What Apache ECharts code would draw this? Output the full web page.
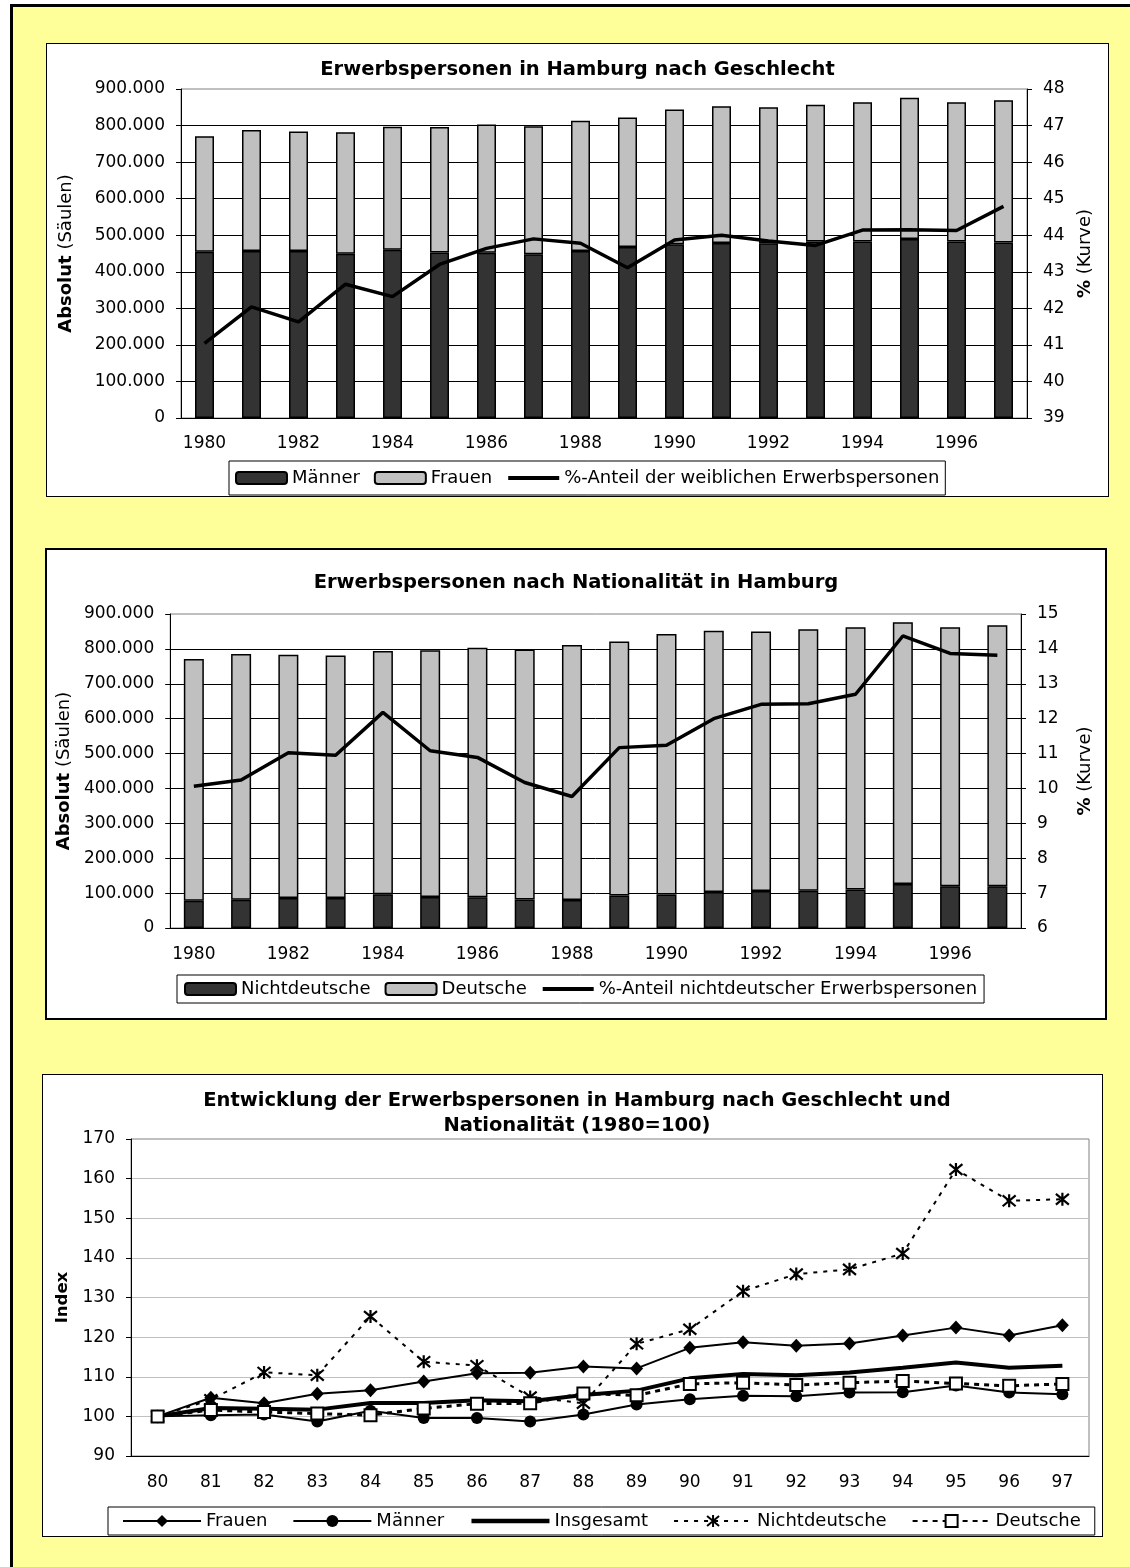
<!DOCTYPE html>
<html><head><meta charset="utf-8">
<script src="https://cdn.jsdelivr.net/npm/echarts@6/dist/echarts.min.js"></script>
<style>
html,body{margin:0;padding:0;background:#fff;width:1130px;height:1567px;overflow:hidden;}
#frame{position:absolute;left:10px;top:4px;width:1200px;height:1700px;border-left:3px solid #000;border-top:3px solid #000;background:#FFFF99;}
.box{position:absolute;background:#fff;border:1px solid #000;}
</style></head><body>
<div id="frame"></div>
<div id="c1" class="box" style="left:46px;top:43px;width:1061px;height:452px;"></div>
<div id="c2" class="box" style="left:45px;top:548px;width:1058px;height:468px;border-width:2px;"></div>
<div id="c3" class="box" style="left:42px;top:1074px;width:1059px;height:461px;"></div>
<script>
// ---------- data ----------
const years = ['1980','1981','1982','1983','1984','1985','1986','1987','1988','1989','1990','1991','1992','1993','1994','1995','1996','1997'];
const yearsShort = ['80','81','82','83','84','85','86','87','88','89','90','91','92','93','94','95','96','97'];
// Chart 1 (absolute numbers)
const maenner = [455000,457000,457000,449000,460000,453000,452000,448000,457000,468000,475000,479000,478000,483000,483000,490000,483000,480000];
const frauen  = [316000,331000,327000,333000,337000,343000,351000,350000,356000,354000,369000,374000,372000,374000,381000,386000,381000,389000];
const anteilWeiblich = [41.04,42.04,41.63,42.66,42.32,43.2,43.64,43.9,43.78,43.11,43.87,44.0,43.84,43.72,44.14,44.15,44.13,44.79];
// Chart 2
const nichtdeutsche = [78000,81000,86000,86000,97000,89000,88000,82000,80000,93000,96000,103000,106000,107000,110000,126000,120000,120000];
const deutsche      = [693000,704000,697000,695000,697000,707000,715000,716000,731000,728000,747000,749000,744000,749000,752000,750000,742000,748000];
const anteilNichtdeutsch = [10.06,10.24,11.02,10.95,12.18,11.08,10.89,10.17,9.77,11.17,11.24,12.0,12.41,12.43,12.7,14.37,13.87,13.82];
// Chart 3 (index 1980=100)
const idxFrauen   = [100,104.7,103.3,105.7,106.6,108.8,110.9,111.0,112.6,112.1,117.3,118.7,117.8,118.4,120.4,122.4,120.4,123.0];
const idxMaenner  = [100,100.3,100.5,98.7,101.4,99.6,99.6,98.7,100.5,103.0,104.3,105.2,105.1,106.0,106.1,107.8,106.0,105.6];
const idxGesamt   = [100,102.1,101.9,101.7,103.4,103.4,104.1,103.8,105.4,106.5,109.6,110.7,110.4,111.1,112.3,113.6,112.3,112.8];
const idxNichtdt  = [100,104.2,111.1,110.4,125.2,113.8,112.8,104.9,103.3,118.3,122.0,131.6,135.9,137.1,141.1,162.3,154.4,154.8];
const idxDeutsche = [100,101.6,101.1,100.7,100.3,102.0,103.2,103.3,105.8,105.3,108.2,108.5,107.9,108.5,108.9,108.3,107.7,108.2];

// ---------- styling helpers ----------
const F = 'DejaVu Sans';
const FS = 17;      // tick labels
const FT = 19.5;    // titles
const FL = 18;      // legend
const FN = 18;      // axis names
function fmt(v){ return String(v).replace(/\B(?=(\d{3})+(?!\d))/g,'.'); }
const blackLine = {lineStyle:{color:'#000',width:1}};
const lbl = {color:'#000',fontSize:FS,fontFamily:F};
const hidden = {color:'rgba(0,0,0,0)',borderColor:'rgba(0,0,0,0)',borderWidth:0,opacity:0};

function absChart(el, cfg){
  const c = echarts.init(document.getElementById(el), null, {renderer:'canvas'});
  c.setOption({
    animation:false,
    textStyle:{fontFamily:F},
    title:{text:cfg.title,left:'center',top:cfg.titleTop,
      textStyle:{fontSize:FT,fontWeight:'bold',color:'#000',fontFamily:F}},
    grid:Object.assign({show:true,borderColor:'#808080',borderWidth:1},cfg.grid),
    legend:{left:cfg.legendLeft,top:cfg.legendTop,itemWidth:51,itemHeight:12,itemGap:14,
      padding:cfg.legendPad,borderColor:'#000',borderWidth:1,backgroundColor:'#fff',
      textStyle:{fontSize:FL,color:'#000',fontFamily:F},
      data:[cfg.names[0],cfg.names[1],
        {name:cfg.names[2],itemStyle:hidden,lineStyle:{color:'#000',width:4,type:'solid'}}]},
    xAxis:{type:'category',data:years,boundaryGap:true,
      axisLine:blackLine,axisTick:{interval:0,length:5,lineStyle:{color:'#000'}},
      axisLabel:Object.assign({interval:1,margin:cfg.xMargin},lbl)},
    yAxis:[
      {type:'value',min:0,max:900000,interval:100000,
       name:'{b|Absolut} (Säulen)',nameLocation:'middle',nameGap:cfg.nameGapL,
       nameTextStyle:{fontSize:FN,color:'#000',fontFamily:F,rich:{b:{fontWeight:'bold',fontSize:FN,fontFamily:F,color:'#000'}}},
       axisLine:Object.assign({show:true},blackLine),axisTick:{show:true,length:5,lineStyle:{color:'#000'}},
       axisLabel:Object.assign({formatter:fmt,margin:16},lbl),
       splitLine:{show:true,showMaxLine:false,lineStyle:{color:'#000',width:1}}},
      {type:'value',min:cfg.rmin,max:cfg.rmax,interval:1,position:'right',
       name:'{b|%} (Kurve)',nameLocation:'middle',nameGap:cfg.nameGapR,
       nameTextStyle:{fontSize:FN,color:'#000',fontFamily:F,rich:{b:{fontWeight:'bold',fontSize:FN,fontFamily:F,color:'#000'}}},
       axisLine:Object.assign({show:true},blackLine),axisTick:{show:true,length:5,lineStyle:{color:'#000'}},
       axisLabel:Object.assign({margin:16},lbl),splitLine:{show:false}}
    ],
    series:[
      {name:cfg.names[0],type:'bar',stack:'s',data:cfg.s1,barWidth:cfg.barWidth,
       itemStyle:{color:'#333333',borderColor:'#000',borderWidth:1.5}},
      {name:cfg.names[1],type:'bar',stack:'s',data:cfg.s2,barWidth:cfg.barWidth,
       itemStyle:{color:'#C0C0C0',borderColor:'#000',borderWidth:1.5}},
      {name:cfg.names[2],type:'line',yAxisIndex:1,data:cfg.s3,symbol:'none',z:5,
       itemStyle:{color:'#000'},lineStyle:{color:'#000',width:3.5}}
    ]
  });
}

absChart('c1',{
  title:'Erwerbspersonen in Hamburg nach Geschlecht',titleTop:11,
  grid:{left:134,right:81,top:45,bottom:78},
  legendLeft:182,legendTop:417,legendPad:[8,6],xMargin:17,barWidth:19,
  names:['Männer','Frauen','%-Anteil der weiblichen Erwerbspersonen'],
  s1:maenner,s2:frauen,s3:anteilWeiblich,rmin:39,rmax:48,nameGapL:106,nameGapR:49
});
absChart('c2',{
  title:'Erwerbspersonen nach Nationalität in Hamburg',titleTop:18,
  grid:{left:121,right:84,top:64,bottom:90},
  legendLeft:130,legendTop:425,legendPad:[5,7],xMargin:18,barWidth:20,
  names:['Nichtdeutsche','Deutsche','%-Anteil nichtdeutscher Erwerbspersonen'],
  s1:nichtdeutsche,s2:deutsche,s3:anteilNichtdeutsch,rmin:6,rmax:15,nameGapL:95,nameGapR:55
});

// ---------- chart 3 ----------
const star = 'path://M0,0L10,10M10,0L0,10M5,-1L5,11';
const c3 = echarts.init(document.getElementById('c3'));
c3.setOption({
  animation:false,
  textStyle:{fontFamily:F},
  title:{text:'Entwicklung der Erwerbspersonen in Hamburg nach Geschlecht und\nNationalität (1980=100)',
    left:529,top:8,textAlign:'center',
    textStyle:{fontSize:FT,fontWeight:'bold',color:'#000',fontFamily:F,lineHeight:25,align:'center'}},
  grid:{left:88,right:13,top:64,bottom:80,show:true,borderColor:'#808080',borderWidth:1},
  legend:{left:65,top:432,itemWidth:78,itemHeight:15,itemGap:25,padding:[5,14],
    borderColor:'#000',borderWidth:1,backgroundColor:'#fff',
    textStyle:{fontSize:FL,color:'#000',fontFamily:F},
    data:['Frauen','Männer',
      {name:'Insgesamt',itemStyle:hidden,lineStyle:{color:'#000',width:4.5,type:'solid'}},
      'Nichtdeutsche','Deutsche']},
  xAxis:{type:'category',data:yearsShort,boundaryGap:true,
    axisLine:blackLine,axisTick:{interval:0,length:5,lineStyle:{color:'#000'}},
    axisLabel:Object.assign({interval:0,margin:18},lbl)},
  yAxis:{type:'value',min:90,max:170,interval:10,name:'Index',nameLocation:'middle',nameGap:53,
    nameTextStyle:{fontSize:16.5,fontWeight:'bold',color:'#000',fontFamily:F},
    axisLine:Object.assign({show:true},blackLine),axisTick:{show:true,length:5,lineStyle:{color:'#000'}},
    axisLabel:Object.assign({margin:16},lbl),
    splitLine:{show:true,showMaxLine:false,lineStyle:{color:'#C0C0C0',width:1}}},
  series:[
    {name:'Frauen',type:'line',data:idxFrauen,symbol:'diamond',symbolSize:[13,14],
     itemStyle:{color:'#000'},lineStyle:{color:'#000',width:2}},
    {name:'Männer',type:'line',data:idxMaenner,symbol:'circle',symbolSize:12,
     itemStyle:{color:'#000'},lineStyle:{color:'#000',width:2}},
    {name:'Insgesamt',type:'line',data:idxGesamt,symbol:'none',
     itemStyle:{color:'#000'},lineStyle:{color:'#000',width:4}},
    {name:'Nichtdeutsche',type:'line',data:idxNichtdt,symbol:star,symbolSize:13,
     itemStyle:{color:'#000',borderColor:'#000',borderWidth:2.2},
     lineStyle:{color:'#000',width:2,type:[4,6]}},
    {name:'Deutsche',type:'line',data:idxDeutsche,symbol:'rect',symbolSize:12,
     itemStyle:{color:'#fff',borderColor:'#000',borderWidth:2},
     lineStyle:{color:'#000',width:3,type:[5,5]}}
  ]
});
</script>
</body></html>
